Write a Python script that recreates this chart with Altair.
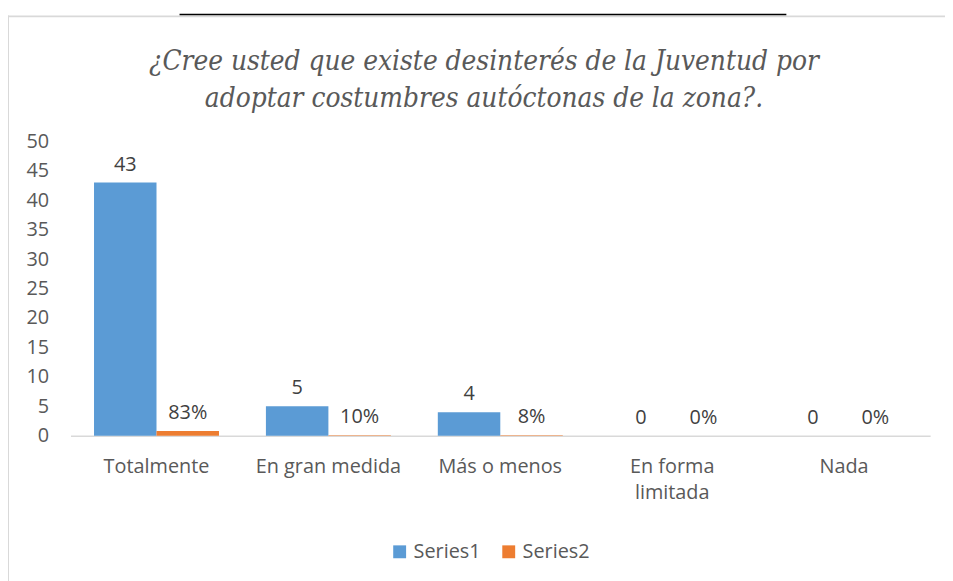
import altair as alt
import pandas as pd

categories = ["Totalmente", "En gran medida", "Más o menos", "En forma limitada", "Nada"]
series1 = [43, 5, 4, 0, 0]
series2 = [0.83, 0.10, 0.08, 0.0, 0.0]
series_names = ["Series1", "Series2"]
colors = ["#5B9BD5", "#ED7D31"]
y_ticks = list(range(0, 51, 5))
title_lines = ["¿Cree usted que existe desinterés de la Juventud por",
               "adoptar costumbres autóctonas de la zona?."]

rows = []
for c, a, b in zip(categories, series1, series2):
    rows.append({"cat": c, "series": "Series1", "value": a, "label": f"{a:.0f}"})
    rows.append({"cat": c, "series": "Series2", "value": b, "label": f"{b:.0%}"})
df = pd.DataFrame(rows)

FONT = "Open Sans"
FS = 20
GRAY = "#595959"
SERIF = "'DejaVu Serif Condensed', 'DejaVu Serif', serif"

x = alt.X(
    "cat:N", sort=categories,
    scale=alt.Scale(paddingInner=0.273, paddingOuter=0.137),
    axis=alt.Axis(title=None, labelAngle=0, domainColor="#d9d9d9", domainWidth=1.5,
                  ticks=False, labelPadding=21, labelFont=FONT, labelFontSize=FS,
                  labelColor=GRAY, labelLineHeight=26,
                  labelExpr="datum.value == 'En forma limitada' ? ['En forma', 'limitada'] : datum.value"),
)
y = alt.Y(
    "value:Q", scale=alt.Scale(domain=[0, 50], nice=False),
    axis=alt.Axis(title=None, values=y_ticks, domain=False, ticks=False, grid=False,
                  labelPadding=22, labelFont=FONT, labelFontSize=FS, labelColor=GRAY),
)
xo = alt.XOffset("series:N", sort=series_names, scale=alt.Scale(paddingInner=0, paddingOuter=0))

base = alt.Chart(df)
bars = base.mark_bar().encode(
    x=x, y=y, xOffset=xo,
    color=alt.Color("series:N", sort=series_names,
                    scale=alt.Scale(domain=series_names, range=colors),
                    legend=alt.Legend(title=None, orient="none", direction="horizontal",
                                      legendX=322, legendY=404, symbolType="square",
                                      symbolSize=169, symbolStrokeWidth=0, labelFont=FONT,
                                      labelFontSize=FS, labelColor=GRAY, labelOffset=4,
                                      columnPadding=18, padding=0)),
)
labels = base.mark_text(font=FONT, fontSize=FS, color="#404040", baseline="alphabetic", dy=-12).encode(
    x=x, y=y, xOffset=xo, text="label:N"
)

one = pd.DataFrame({"a": [0]})
border_top = alt.Chart(one).mark_rule(color="#d9d9d9", strokeWidth=2).encode(
    x=alt.value(-63), x2=alt.value(900), y=alt.value(-126))
border_left = alt.Chart(one).mark_rule(color="#d9d9d9", strokeWidth=2).encode(
    x=alt.value(-63), y=alt.value(-127), y2=alt.value(445))
black_line = alt.Chart(one).mark_rule(color="#000000", strokeWidth=1.5).encode(
    x=alt.value(110), x2=alt.value(722), y=alt.value(-128))

title_layers = []
for line, yy in zip(title_lines, [-72, -35]):
    title_layers.append(
        alt.Chart(one).mark_text(font=SERIF, fontStyle="italic", fontSize=28,
                                 color=GRAY, align="center", baseline="alphabetic", text=line)
        .encode(x=alt.value(417), y=alt.value(yy))
    )

chart = alt.layer(border_top, border_left, black_line, *title_layers, bars, labels).properties(
    width=867, height=297,
    padding={"left": 63, "top": 132, "right": 15, "bottom": 144},
    autosize=alt.AutoSizeParams(type="none"),
).configure_view(stroke=None)

chart.save("out.html", embed_options={"renderer": "svg", "actions": False})
